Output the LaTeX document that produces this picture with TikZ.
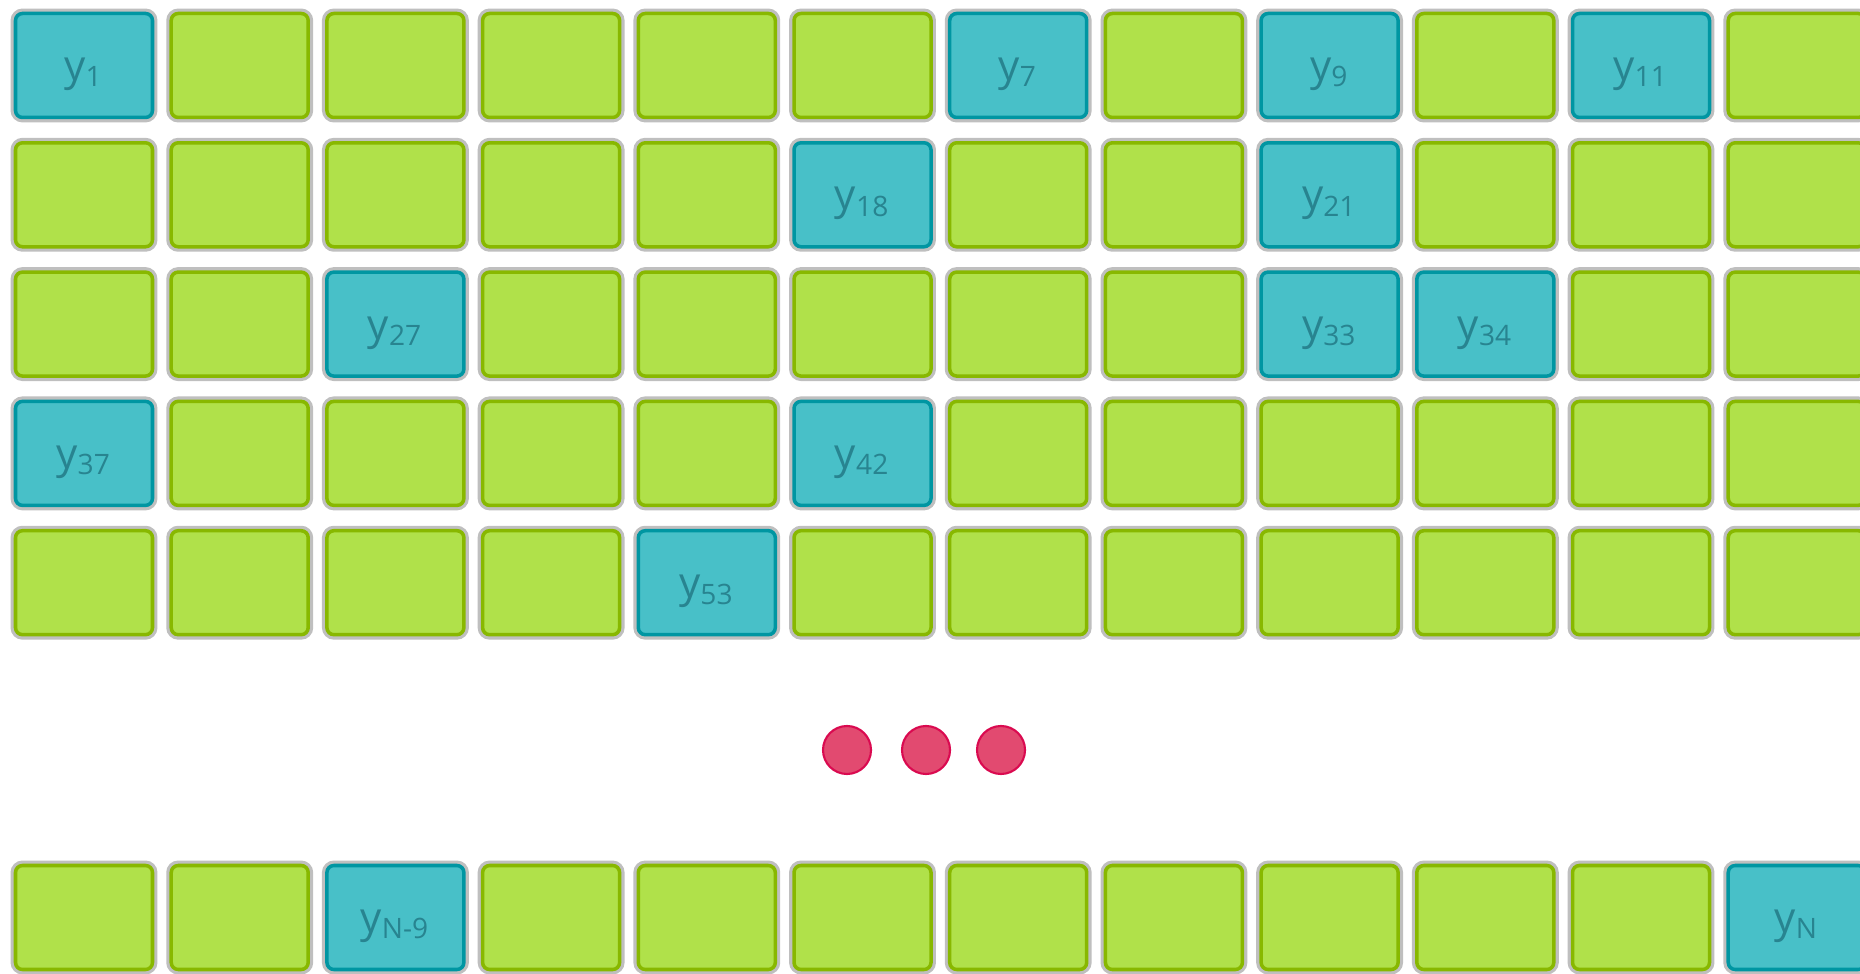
\documentclass[tikz,border=0pt]{standalone}
\usepackage{fontspec}
\setmainfont{Open Sans}
\usepackage{tikz}
\usepackage{xstring}
\usetikzlibrary{positioning}
\definecolor{CellGreen}{RGB}{176,225,74}
\definecolor{CellGreenEdge}{RGB}{136,184,0}
\definecolor{CellCyan}{RGB}{72,192,200}
\definecolor{CellCyanEdge}{RGB}{0,150,162}
\definecolor{LabelTeal}{RGB}{40,132,144}
\definecolor{DotRed}{RGB}{226,74,112}
\definecolor{DotEdge}{RGB}{218,10,80}

\begin{document}
\begin{tikzpicture}[
  free/.style={draw=CellGreenEdge,fill=CellGreen,line width=1pt,rounded corners=2pt,
               minimum width=1.37cm,minimum height=1.04cm,inner sep=0pt,
               preaction={draw=gray!50,line width=2.8pt}},
  obs/.style={free,draw=CellCyanEdge,fill=CellCyan,
              font=\fontsize{12}{14}\selectfont,text=LabelTeal,
              text height=0.4cm,text depth=0.1cm},
  dot/.style={circle,draw=DotEdge,fill=DotRed,line width=0.6pt,
              minimum size=0.48cm,inner sep=0pt},
]
\useasboundingbox (0,0) rectangle (18.6,-9.74);
\clip (0,0) rectangle (18.6,-9.74);
% observed cells, numbered row by row
\def\obslist{,1,7,9,11,18,21,27,33,34,37,42,53,}
\foreach \r in {1,...,5}
  \foreach \c in {1,...,12} {
    \pgfmathtruncatemacro{\k}{12*(\r-1)+\c}
    \IfSubStr{\obslist}{,\k,}{%
      \node[obs] (y\k) at ({0.84+1.557*(\c-1)},{-0.655-1.293*(\r-1)}) {y\textsubscript{\k}};
    }{%
      \node[free] (y\k) at ({0.84+1.557*(\c-1)},{-0.655-1.293*(\r-1)}) {};
    }
  }
% gap
\node[dot] (dot1) at (8.47,-7.50) {};
\node[dot] (dot2) at (9.26,-7.50) {};
\node[dot] (dot3) at (10.01,-7.50) {};
% last row
\foreach \c in {1,2,4,5,6,7,8,9,10,11}
  \node[free] (last\c) at ({0.84+1.557*(\c-1)},-9.175) {};
\node[obs] (yN9) at ({0.84+1.557*2},-9.175) {y\textsubscript{N-9}};
\node[obs] (yN) at ({0.84+1.557*11},-9.175) {y\textsubscript{N}};
\end{tikzpicture}
\end{document}
